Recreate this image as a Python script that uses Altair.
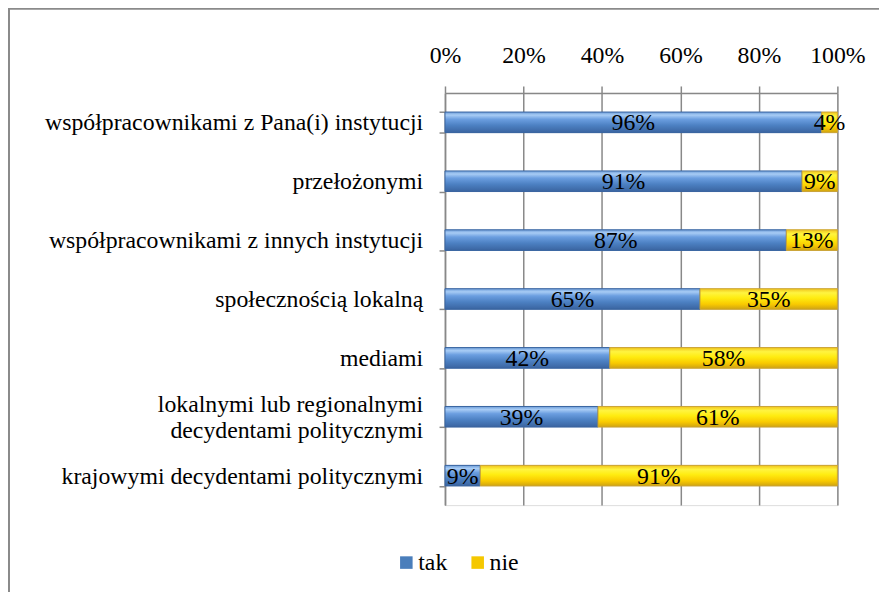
import altair as alt
import pandas as pd

categories = [
    "współpracownikami z Pana(i) instytucji",
    "przełożonymi",
    "współpracownikami z innych instytucji",
    "społecznością lokalną",
    "mediami",
    "lokalnymi lub regionalnymi|decydentami politycznymi",
    "krajowymi decydentami politycznymi",
]
tak = [96, 91, 87, 65, 42, 39, 9]
nie = [4, 9, 13, 35, 58, 61, 91]
series = ["tak", "nie"]
x_ticks = [0, 20, 40, 60, 80, 100]

rows = []
for c, t, n in zip(categories, tak, nie):
    rows.append({"cat": c, "series": "tak", "start": 0, "end": t, "val": t})
    rows.append({"cat": c, "series": "nie", "start": t, "end": t + n, "val": n})
df = pd.DataFrame(rows)
df["mid"] = (df["start"] + df["end"]) / 2
df["lbl"] = df["val"].astype(str) + "%"
cat_df = pd.DataFrame({"cat": categories})
cat_df["multi"] = cat_df["cat"].str.contains("|", regex=False)

FONT = "Liberation Serif"
FS = 24
GRAY = "#888888"

y_scale = alt.Scale(paddingInner=0.65, paddingOuter=0.325)
y_enc = alt.Y(
    "cat:N",
    sort=categories,
    scale=y_scale,
    axis=alt.Axis(
        title=None,
        labels=False,
        tickBand="extent",
        tickSize=6,
        domainColor=GRAY,
        tickColor=GRAY,
        domainWidth=1.5,
        tickWidth=1.5,
        grid=False,
    ),
)
x_enc = alt.X(
    "start:Q",
    scale=alt.Scale(domain=[0, 100], nice=False),
    axis=alt.Axis(
        orient="top",
        title=None,
        values=x_ticks,
        labelExpr="datum.value + '%'",
        labelFlush=False,
        labelFont=FONT,
        labelFontSize=FS,
        labelColor="black",
        tickSize=7,
        labelPadding=19,
        domainColor=GRAY,
        tickColor=GRAY,
        gridColor=GRAY,
        domainWidth=1.5,
        tickWidth=1.5,
        gridWidth=1.5,
        grid=True,
    ),
)

base = alt.Chart(df).mark_bar(strokeWidth=1).encode(
    y=y_enc,
    x=x_enc,
    x2="end:Q",
    color=alt.Color(
        "series:N",
        scale=alt.Scale(domain=series, range=["#4A7EBB", "#F5C800"]),
        legend=alt.Legend(
            title=None,
            orient="none",
            legendX=-51,
            legendY=462,
            direction="horizontal",
            symbolType="square",
            symbolSize=160,
            symbolStrokeWidth=1,
            labelFont=FONT,
            labelFontSize=FS,
            labelColor="black",
            labelOffset=0,
            columnPadding=18,
        ),
    ),
)

blue_grad = alt.Gradient(
    gradient="linear",
    stops=[
        alt.GradientStop(color="#6C9CD8", offset=0),
        alt.GradientStop(color="#A8CCF5", offset=0.15),
        alt.GradientStop(color="#6B9EE0", offset=0.35),
        alt.GradientStop(color="#4C80C2", offset=0.65),
        alt.GradientStop(color="#3A64A0", offset=1),
    ],
    x1=0, x2=0, y1=0, y2=1,
)
yellow_grad = alt.Gradient(
    gradient="linear",
    stops=[
        alt.GradientStop(color="#F0C41C", offset=0),
        alt.GradientStop(color="#FFF440", offset=0.2),
        alt.GradientStop(color="#FFEC10", offset=0.45),
        alt.GradientStop(color="#F9CA00", offset=0.75),
        alt.GradientStop(color="#CFA312", offset=1),
    ],
    x1=0, x2=0, y1=0, y2=1,
)

tak_layer = alt.Chart(df).transform_filter(alt.datum.series == "tak").mark_bar(
    color=blue_grad, stroke="#3A64A0", strokeWidth=1
).encode(y=alt.Y("cat:N", sort=categories), x="start:Q", x2="end:Q")
nie_layer = alt.Chart(df).transform_filter(alt.datum.series == "nie").mark_bar(
    color=yellow_grad, stroke="#C9A33A", strokeWidth=1
).encode(y=alt.Y("cat:N", sort=categories), x="start:Q", x2="end:Q")

text = alt.Chart(df).mark_text(
    font=FONT, fontSize=FS, color="black", baseline="middle", dy=1
).encode(y=alt.Y("cat:N", sort=categories), x="mid:Q", text="lbl:N")

ylab_single = alt.Chart(cat_df).transform_filter("!datum.multi").mark_text(
    font=FONT, fontSize=FS, color="black", align="right", baseline="middle", dy=1
).encode(y=alt.Y("cat:N", sort=categories), x=alt.value(-22), text="cat:N")
ylab_multi = alt.Chart(cat_df).transform_filter("datum.multi").mark_text(
    font=FONT, fontSize=FS, color="black", align="right", baseline="middle",
    dy=-12, lineBreak="|", lineHeight=26
).encode(y=alt.Y("cat:N", sort=categories), x=alt.value(-22), text="cat:N")

frame = alt.Chart(pd.DataFrame({"a": [0]})).mark_rect(
    fill=None, stroke="#8A8A8A", strokeWidth=2
).encode(
    x=alt.value(-440), x2=alt.value(480),
    y=alt.value(-85), y2=alt.value(540),
)

chart = alt.layer(base, tak_layer, nie_layer, text, ylab_single, ylab_multi, frame).properties(
    width=396,
    height=416,
    autosize=alt.AutoSizeParams(type="none"),
    padding={"left": 441, "top": 83, "right": 42, "bottom": 85},
).configure_view(stroke=None).configure(background="white")

chart.save("out.html", embed_options={"renderer": "svg", "actions": False})
